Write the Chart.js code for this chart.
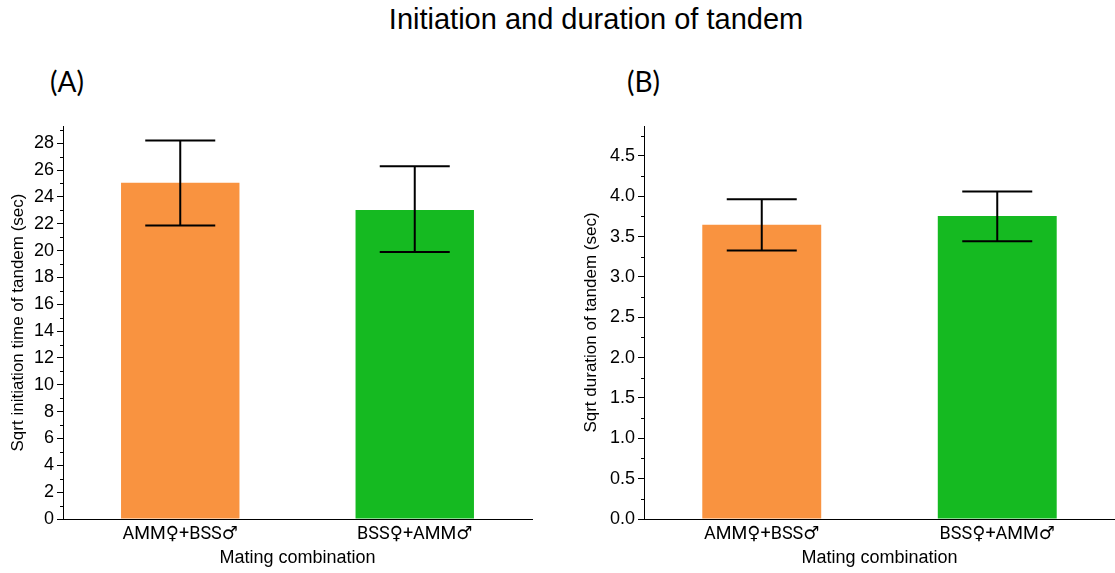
<!DOCTYPE html>
<html>
<head>
<meta charset="utf-8">
<script src="https://cdn.jsdelivr.net/npm/chart.js@4"></script>
<style>
  body { margin: 0; width: 1115px; height: 573px; background: #fff; position: relative; overflow: hidden; font-family: "Liberation Sans", Arial, sans-serif; }
  #titulo { position: absolute; top: 3px; left: 0; width: 1192px; text-align: center; font-size: 29px; color: #000; }
  .painel { position: absolute; top: 64px; font-family: Lato, "Open Sans", sans-serif; font-size: 28px; color: #000; }
  #boxA { position: absolute; left: 0; top: 110px; width: 545px; height: 463px; }
  #boxB { position: absolute; left: 560px; top: 110px; width: 555px; height: 463px; }
</style>
</head>
<body>
<div id="titulo">Initiation and duration of tandem</div>
<div class="painel" style="left:50px">(A)</div>
<div class="painel" style="left:627px">(B)</div>
<div id="boxA"><canvas id="graficoA"></canvas></div>
<div id="boxB"><canvas id="graficoB"></canvas></div>
<script>
// dados
const categorias = ["AMM♀+BSS♂", "BSS♀+AMM♂"];

const inicioMedia = [25.05, 23.03];
const inicioBaixo = [21.86, 19.9];
const inicioAlto = [28.2, 26.28];
const inicioTicks = [0, 2, 4, 6, 8, 10, 12, 14, 16, 18, 20, 22, 24, 26, 28];

const duracaoMedia = [3.645, 3.756];
const duracaoBaixo = [3.326, 3.442];
const duracaoAlto = [3.963, 4.057];
const duracaoTicks = [0, 0.5, 1.0, 1.5, 2.0, 2.5, 3.0, 3.5, 4.0, 4.5];

const corLaranja = "rgb(249, 147, 64)";
const corVerde = "rgb(21, 186, 33)";
const fonte = "'Liberation Sans', 'DejaVu Sans', Arial, sans-serif";
// Roboto nao tem os simbolos, entao ♀♂ vem do DejaVu (maiores)
const fonteCat = "Roboto, 'DejaVu Sans', sans-serif";

// barras de erro e ticks menores
const extras = {
  id: "extras",
  afterDatasetsDraw(chart, args, opts) {
    const ctx = chart.ctx;
    const y = chart.scales.y;
    const meta = chart.getDatasetMeta(0);
    ctx.save();
    ctx.strokeStyle = "#000";
    ctx.lineWidth = 2;
    opts.baixo.forEach((lo, i) => {
      const cx = meta.data[i].x;
      const yl = y.getPixelForValue(lo);
      const yh = y.getPixelForValue(opts.alto[i]);
      ctx.beginPath();
      ctx.moveTo(cx, yl); ctx.lineTo(cx, yh);
      ctx.moveTo(cx - 35, yl); ctx.lineTo(cx + 35, yl);
      ctx.moveTo(cx - 35, yh); ctx.lineTo(cx + 35, yh);
      ctx.stroke();
    });
    // ticks menores
    ctx.lineWidth = 1;
    ctx.beginPath();
    for (let v = 0; v <= y.max; v += opts.passo) {
      const val = Math.round(v * 100) / 100;
      if (opts.ticks.includes(val)) continue;
      const py = Math.round(y.getPixelForValue(val)) + 0.5;
      ctx.moveTo(y.right - 3, py); ctx.lineTo(y.right, py);
    }
    ctx.stroke();
    ctx.restore();
  }
};

function criarGrafico(id, media, baixo, alto, ticks, maximo, passo, tituloY, larguraY, padDir, padTitulo) {
  const ctx = document.getElementById(id).getContext("2d");
  return new Chart(ctx, {
    type: "bar",
    data: {
      labels: categorias,
      datasets: [
        {
          data: media,
          backgroundColor: [corLaranja, corVerde],
          barPercentage: 1,
          categoryPercentage: 0.505,
        },
      ],
    },
    options: {
      responsive: true,
      maintainAspectRatio: false,
      animation: false,
      layout: { padding: { top: 16, right: padDir, left: 0, bottom: 0 } },
      plugins: {
        legend: { display: false },
        tooltip: { enabled: false },
        extras: { baixo: baixo, alto: alto, passo: passo, ticks: ticks },
      },
      scales: {
        x: {
          grid: { display: false, drawTicks: false },
          border: { display: true, color: "#000", width: 1 },
          ticks: { color: "#000", font: { family: fonteCat, size: 18 }, padding: 5 },
          title: { display: true, text: "Mating combination", color: "#000", font: { family: fonte, size: 18 }, padding: { top: 2 } },
          afterFit(s) { s.height = 54; },
        },
        y: {
          min: 0,
          max: maximo,
          afterBuildTicks(s) { s.ticks = ticks.map((v) => ({ value: v })); },
          grid: { drawOnChartArea: false, tickLength: 6, color: "#000" },
          border: { display: true, color: "#000", width: 1 },
          ticks: {
            color: "#000",
            font: { family: fonte, size: 18 },
            padding: 3,
            callback: (v) => (passo < 1 ? Number(v).toFixed(1) : v),
          },
          title: { display: true, text: tituloY, color: "#000", font: { family: fonte, size: 17 }, padding: { top: padTitulo, bottom: 0 } },
          afterFit(s) { s.width = larguraY; },
        },
      },
    },
    plugins: [extras],
  });
}

criarGrafico("graficoA", inicioMedia, inicioBaixo, inicioAlto, inicioTicks, 29.28, 1,
  "Sqrt initiation time of tandem (sec)", 63, 13, 8);
criarGrafico("graficoB", duracaoMedia, duracaoBaixo, duracaoAlto, duracaoTicks, 4.87, 0.25,
  "Sqrt duration of tandem (sec)", 84, 0, 21);
</script>
</body>
</html>
